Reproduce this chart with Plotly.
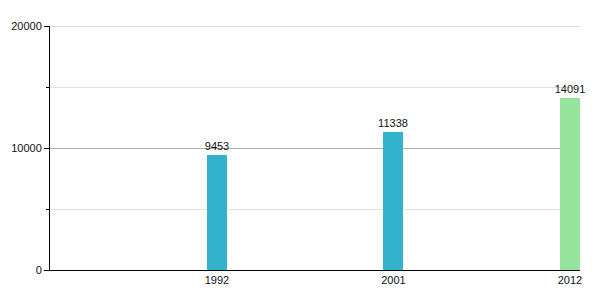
import plotly.graph_objects as go

years = ["1992", "2001", "2012"]
values = [9453, 11338, 14091]
colors = ["#31b3cd", "#31b3cd", "#96e39b"]
y_max = 20000

fig = go.Figure()
fig.add_trace(go.Bar(
    x=years, y=values, marker=dict(color=colors, line=dict(width=0)),
    width=0.113, text=[str(v) for v in values], textposition="outside",
    constraintext="none",
    textfont=dict(family="Liberation Sans, Arial, sans-serif", size=11, color="#111"),
    cliponaxis=False,
))
fig.update_layout(
    width=600, height=300, margin=dict(l=50, r=20, t=26, b=30),
    plot_bgcolor="white", paper_bgcolor="white", showlegend=False,
    font=dict(family="Liberation Sans, Arial, sans-serif", size=11, color="#111"),
    bargap=0,
)
fig.add_shape(type="line", xref="paper", yref="y", x0=0, x1=1, y0=y_max, y1=y_max,
              line=dict(color="#b0b0b0", width=1), layer="below")
fig.update_xaxes(
    type="category", range=[-0.946, 2.057], showline=True, linecolor="black",
    linewidth=1, ticks="", showgrid=False, tickfont=dict(size=11),
)
fig.update_yaxes(
    range=[0, y_max], dtick=10000, tick0=0, tickformat="d", showline=True, linecolor="black",
    linewidth=1, ticks="outside", ticklen=5, tickcolor="black",
    gridcolor="#b0b0b0", gridwidth=1, zeroline=False,
    minor=dict(dtick=5000, showgrid=True, gridcolor="#e2e2e2", ticks="outside",
               ticklen=3, tickcolor="black"),
    tickfont=dict(size=11),
)
fig.write_html("out.html")
